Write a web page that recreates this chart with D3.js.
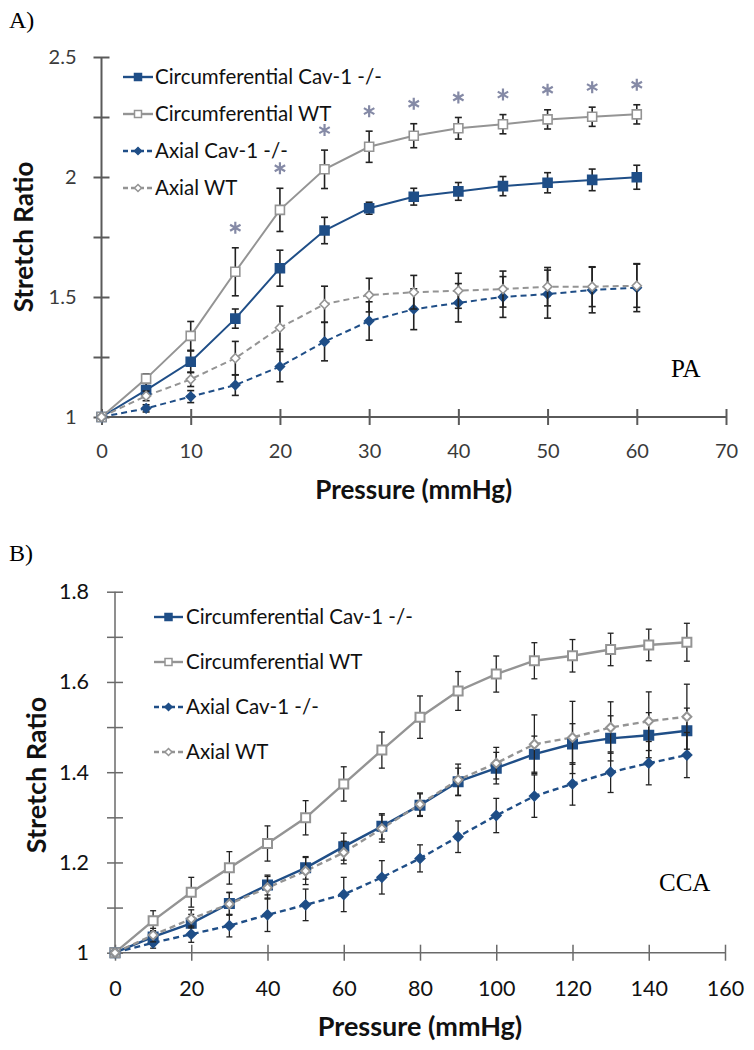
<!DOCTYPE html>
<html>
<head>
<meta charset="utf-8">
<script src="https://cdn.jsdelivr.net/npm/d3@7"></script>
<style>
  html, body { margin: 0; padding: 0; background: #fff; }
  svg { display: block; }
  text { font-family: Lato, "Open Sans", sans-serif; }
</style>
</head>
<body>
<svg id="chart" width="754" height="1050"></svg>
<script>
// ---------- Panel A (PA) data ----------
const paPressure = [0, 5, 10, 15, 20, 25, 30, 35, 40, 45, 50, 55, 60];
const paCircKO    = [1, 1.112, 1.23, 1.41, 1.62, 1.777, 1.87, 1.918, 1.94, 1.962, 1.976, 1.988, 1.999];
const paCircKOErr = [0, 0.03, 0.045, 0.04, 0.075, 0.055, 0.025, 0.035, 0.037, 0.04, 0.042, 0.045, 0.05];
const paCircWT    = [1, 1.16, 1.338, 1.605, 1.863, 2.032, 2.126, 2.172, 2.203, 2.22, 2.24, 2.251, 2.261];
const paCircWTErr = [0, 0.02, 0.06, 0.1, 0.09, 0.08, 0.065, 0.05, 0.045, 0.04, 0.04, 0.04, 0.04];
const paAxKO      = [1, 1.036, 1.085, 1.133, 1.21, 1.314, 1.40, 1.449, 1.476, 1.50, 1.512, 1.529, 1.539];
const paAxKOErr   = [0, 0.015, 0.025, 0.043, 0.063, 0.08, 0.08, 0.085, 0.08, 0.085, 0.1, 0.095, 0.1];
const paAxWT      = [1, 1.088, 1.157, 1.245, 1.372, 1.47, 1.508, 1.52, 1.526, 1.533, 1.543, 1.543, 1.547];
const paAxWTErr   = [0, 0.02, 0.03, 0.07, 0.09, 0.075, 0.07, 0.07, 0.073, 0.075, 0.08, 0.083, 0.09];
const paSignificant = [15, 20, 25, 30, 35, 40, 45, 50, 55, 60];
const paXTicks = [0, 10, 20, 30, 40, 50, 60, 70];
const paYTicks = [1, 1.25, 1.5, 1.75, 2, 2.25, 2.5];
const paYLabels = ["1", "", "1.5", "", "2", "", "2.5"];

// ---------- Panel B (CCA) data ----------
const ccaPressure = [0, 10, 20, 30, 40, 50, 60, 70, 80, 90, 100, 110, 120, 130, 140, 150];
const ccaCircKO    = [1, 1.035, 1.065, 1.109, 1.15, 1.188, 1.235, 1.28, 1.327, 1.379, 1.409, 1.44, 1.4625, 1.475, 1.482, 1.492];
const ccaCircKOErr = [0, 0.012, 0.02, 0.025, 0.022, 0.025, 0.03, 0.028, 0.025, 0.03, 0.035, 0.04, 0.045, 0.05, 0.05, 0.05];
const ccaCircWT    = [1, 1.071, 1.134, 1.188, 1.242, 1.299, 1.374, 1.449, 1.522, 1.58, 1.6175, 1.647, 1.658, 1.672, 1.682, 1.688];
const ccaCircWTErr = [0, 0.022, 0.033, 0.036, 0.039, 0.038, 0.038, 0.04, 0.047, 0.043, 0.04, 0.04, 0.036, 0.036, 0.035, 0.042];
const ccaAxKO      = [1, 1.022, 1.041, 1.06, 1.084, 1.106, 1.129, 1.167, 1.209, 1.257, 1.304, 1.347, 1.374, 1.40, 1.42, 1.438];
const ccaAxKOErr   = [0, 0.012, 0.018, 0.025, 0.037, 0.035, 0.038, 0.037, 0.03, 0.035, 0.038, 0.047, 0.047, 0.045, 0.048, 0.05];
const ccaAxWT      = [1, 1.039, 1.075, 1.108, 1.144, 1.181, 1.222, 1.275, 1.329, 1.383, 1.42, 1.462, 1.477, 1.499, 1.513, 1.523];
const ccaAxWTErr   = [0, 0.015, 0.02, 0.025, 0.025, 0.03, 0.025, 0.03, 0.025, 0.035, 0.035, 0.065, 0.08, 0.057, 0.065, 0.072];
const ccaXTicks = [0, 20, 40, 60, 80, 100, 120, 140, 160];
const ccaYTicks = [1, 1.1, 1.2, 1.3, 1.4, 1.5, 1.6, 1.7, 1.8];
const ccaYLabels = ["1", "", "1.2", "", "1.4", "", "1.6", "", "1.8"];

const seriesNames = ["Circumferential Cav-1 -/-", "Circumferential WT", "Axial Cav-1 -/-", "Axial WT"];

const BLUE = "#1f4e87";
const GRAY = "#949494";

const styles = [
  { color: BLUE, dash: null, marker: "square", fill: BLUE },
  { color: GRAY, dash: null, marker: "square", fill: "#fff" },
  { color: BLUE, dash: "6,4", marker: "diamond", fill: BLUE },
  { color: GRAY, dash: "6,4", marker: "diamond", fill: "#fff" }
];

const svg = d3.select("#chart");

function markerPath(type, s) {
  if (type === "square") {
    return `M${-s},${-s}H${s}V${s}H${-s}Z`;
  }
  return `M0,${-s}L${s},0L0,${s}L${-s},0Z`;
}

function drawPanel(cfg) {
  const g = svg.append("g");
  const x = d3.scaleLinear().domain(cfg.xDomain).range(cfg.xRange);
  const y = d3.scaleLinear().domain(cfg.yDomain).range(cfg.yRange);

  // axes
  const yAxis = d3.axisLeft(y).tickValues(cfg.yTicks)
    .tickFormat((d, i) => cfg.yLabels[i]).tickSize(0).tickPadding(cfg.yPad);
  const yG = g.append("g").attr("transform", `translate(${cfg.xRange[0]},0)`).call(yAxis);
  const xAxis = d3.axisBottom(x).tickValues(cfg.xTicks).tickSize(0).tickPadding(cfg.xPad);
  const xG = g.append("g").attr("transform", `translate(0,${cfg.yRange[0]})`).call(xAxis);

  [yG, xG].forEach(a => {
    a.select(".domain").attr("stroke", cfg.axisColor).attr("stroke-width", cfg.axisWidth);
    a.selectAll("text").attr("fill", cfg.tickColor).style("font-size", cfg.tickFont + "px")
      .style("font-family", "Lato, sans-serif");
  });
  yG.selectAll(".tick line").attr("x1", -cfg.tickLen).attr("x2", cfg.tickLen)
    .attr("stroke", cfg.axisColor).attr("stroke-width", cfg.axisWidth);
  xG.selectAll(".tick line").attr("y1", -cfg.tickLen).attr("y2", cfg.tickLen)
    .attr("stroke", cfg.axisColor).attr("stroke-width", cfg.axisWidth);
  xG.select(".domain").attr("d", `M${cfg.xRange[0]},0H${cfg.xRange[1]}`);
  yG.select(".domain").attr("d", `M0,${cfg.yRange[0]}V${cfg.yRange[1]}`);

  // series
  const series = cfg.series;
  const line = d3.line().x(d => x(d[0])).y(d => y(d[1]));
  series.forEach((s, i) => {
    const st = styles[i];
    const pts = cfg.pressure.map((p, j) => [p, s.values[j], s.err[j]]);
    g.append("path").datum(pts).attr("d", line).attr("fill", "none")
      .attr("stroke", st.color).attr("stroke-width", cfg.lineWidth)
      .attr("stroke-dasharray", st.dash);
  });
  series.forEach((s, i) => {
    const st = styles[i];
    const pts = cfg.pressure.map((p, j) => [p, s.values[j], s.err[j]]);
    const eb = g.append("g");
    pts.filter(d => d[2] > 0).forEach(d => {
      const px = x(d[0]), y1 = y(d[1] + d[2]), y2 = y(d[1] - d[2]);
      eb.append("line").attr("x1", px).attr("x2", px).attr("y1", y1).attr("y2", y2)
        .attr("stroke", cfg.errColor).attr("stroke-width", cfg.errWidth);
      [y1, y2].forEach(yy => eb.append("line").attr("x1", px - cfg.cap).attr("x2", px + cfg.cap)
        .attr("y1", yy).attr("y2", yy).attr("stroke", cfg.errColor).attr("stroke-width", cfg.errWidth));
    });
    g.append("g").selectAll("path").data(pts).join("path")
      .attr("transform", d => `translate(${x(d[0])},${y(d[1])})`)
      .attr("d", markerPath(st.marker, st.marker === "square" ? cfg.sq : cfg.dia))
      .attr("fill", st.fill).attr("stroke", st.color).attr("stroke-width", cfg.markerStroke);
  });

  // significance asterisks
  if (cfg.sig) {
    const wt = series[1];
    cfg.sig.forEach(p => {
      const j = cfg.pressure.indexOf(p);
      const cx = x(p), cy = y(wt.values[j] + wt.err[j]) - 20;
      const r = 6;
      g.append("path")
        .attr("d", `M${cx},${cy - r}V${cy + r}M${cx - r * 0.87},${cy - r / 2}L${cx + r * 0.87},${cy + r / 2}M${cx - r * 0.87},${cy + r / 2}L${cx + r * 0.87},${cy - r / 2}`)
        .attr("stroke", "#858aa6").attr("stroke-width", 2.2).attr("fill", "none");
    });
  }

  // legend
  const lg = g.append("g");
  seriesNames.forEach((n, i) => {
    const st = styles[i];
    const ly = cfg.legend.y0 + i * cfg.legend.dy;
    lg.append("line").attr("x1", cfg.legend.x0).attr("x2", cfg.legend.x1)
      .attr("y1", ly).attr("y2", ly).attr("stroke", st.color).attr("stroke-width", 2.4)
      .attr("stroke-dasharray", st.dash ? "5,3" : null);
    const mx = (cfg.legend.x0 + cfg.legend.x1) / 2;
    lg.append("path").attr("transform", `translate(${mx},${ly})`)
      .attr("d", markerPath(st.marker, st.marker === "square" ? cfg.legend.sq : cfg.legend.dia))
      .attr("fill", st.fill).attr("stroke", st.color).attr("stroke-width", 1.5);
    lg.append("text").attr("x", cfg.legend.tx).attr("y", ly).attr("dy", "0.35em")
      .attr("fill", "#111").style("font-size", cfg.legend.font + "px").text(n);
  });

  // axis titles
  g.append("text").attr("x", (cfg.xRange[0] + cfg.xRange[1]) / 2).attr("y", cfg.xTitleY)
    .attr("text-anchor", "middle").attr("dy", "0.35em").attr("fill", "#111")
    .style("font-weight", "bold").style("font-size", cfg.titleFont + "px").text("Pressure (mmHg)");
  g.append("text").attr("transform", `translate(${cfg.yTitleX},${cfg.yTitleY}) rotate(-90)`)
    .attr("text-anchor", "middle").attr("dy", "0.35em").attr("fill", "#111")
    .style("font-weight", "bold").style("font-size", cfg.titleFont + "px").text("Stretch Ratio");

  // panel letter and vessel label
  g.append("text").attr("x", cfg.letter.x).attr("y", cfg.letter.y)
    .style("font-family", "'Liberation Serif', 'DejaVu Serif', serif").style("font-size", "24px")
    .attr("fill", "#000").text(cfg.letter.text);
  g.append("text").attr("x", cfg.vessel.x).attr("y", cfg.vessel.y)
    .style("font-family", "'Liberation Serif', 'DejaVu Serif', serif").style("font-size", "25px")
    .attr("fill", "#000").text(cfg.vessel.text);
}

drawPanel({
  xDomain: [0, 70], xRange: [101.5, 726],
  yDomain: [1, 2.5], yRange: [417, 57],
  xTicks: paXTicks, yTicks: paYTicks, yLabels: paYLabels,
  yPad: 25, xPad: 27, tickLen: 8, tickFont: 20, tickColor: "#3a3a3a",
  axisColor: "#5a5a5a", axisWidth: 2,
  pressure: paPressure,
  series: [
    { values: paCircKO, err: paCircKOErr },
    { values: paCircWT, err: paCircWTErr },
    { values: paAxKO, err: paAxKOErr },
    { values: paAxWT, err: paAxWTErr }
  ],
  sig: paSignificant,
  lineWidth: 2, errColor: "#222", errWidth: 1.6, cap: 3.5, sq: 4.5, dia: 4.5, markerStroke: 1.6,
  legend: { x0: 123, x1: 153, tx: 155, y0: 77, dy: 37, font: 20.5, sq: 3.5, dia: 3.5 },
  xTitleY: 490, yTitleX: 24, yTitleY: 237, titleFont: 26,
  letter: { x: 9, y: 28, text: "A)" },
  vessel: { x: 671, y: 377, text: "PA" }
});

drawPanel({
  xDomain: [0, 160], xRange: [115, 725],
  yDomain: [1, 1.8], yRange: [952.7, 591.7],
  xTicks: ccaXTicks, yTicks: ccaYTicks, yLabels: ccaYLabels,
  yPad: 26, xPad: 28, tickLen: 8, tickFont: 21.5, tickColor: "#111",
  axisColor: "#6a6a6a", axisWidth: 1.5,
  pressure: ccaPressure,
  series: [
    { values: ccaCircKO, err: ccaCircKOErr },
    { values: ccaCircWT, err: ccaCircWTErr },
    { values: ccaAxKO, err: ccaAxKOErr },
    { values: ccaAxWT, err: ccaAxWTErr }
  ],
  sig: null,
  lineWidth: 2.4, errColor: "#222", errWidth: 1.3, cap: 3, sq: 4.5, dia: 4.5, markerStroke: 2,
  legend: { x0: 154, x1: 183, tx: 186, y0: 617, dy: 45, font: 20.5, sq: 3.5, dia: 3.5 },
  xTitleY: 1027, yTitleX: 37, yTitleY: 775, titleFont: 27,
  letter: { x: 9, y: 561, text: "B)" },
  vessel: { x: 659, y: 891, text: "CCA" }
});
</script>
</body>
</html>
